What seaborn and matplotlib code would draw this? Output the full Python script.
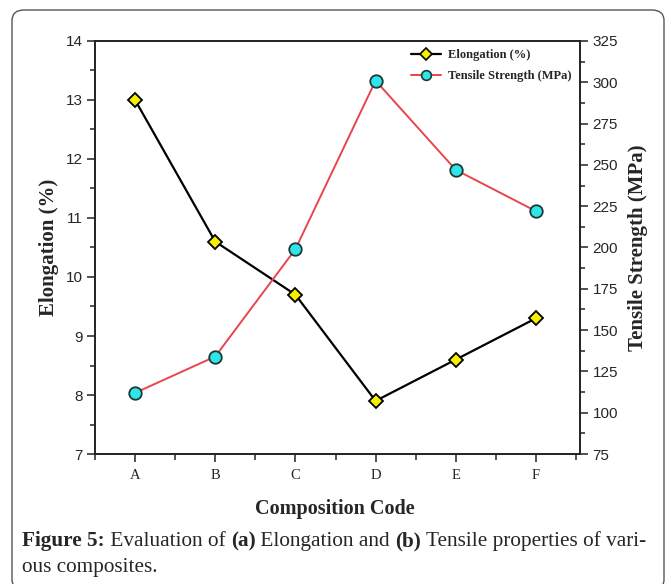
import matplotlib
matplotlib.use("Agg")
import matplotlib.pyplot as plt
from matplotlib.patches import FancyBboxPatch
from matplotlib.lines import Line2D
from matplotlib.ticker import MultipleLocator, FixedLocator
import seaborn as sns
import pandas as pd

codes = ["A", "B", "C", "D", "E", "F"]
elongation = [13.0, 10.6, 9.7, 7.9, 8.6, 9.3]
tensile = [112, 134, 199, 301, 247, 222]

sns.set_theme(style="white")
plt.rcParams["font.family"] = ["Liberation Sans", "DejaVu Sans"]

df = pd.DataFrame({"pos": range(len(codes)), "code": codes,
                   "elong": elongation, "tens": tensile})

fig = plt.figure(figsize=(6.7, 5.84), dpi=100)
ax = fig.add_axes([0.1418, 0.2226, 0.7239, 0.7072])
ax2 = ax.twinx()

sns.lineplot(data=df, x="pos", y="elong", ax=ax, color="black", lw=1.6,
             marker="D", markersize=7.5, markerfacecolor="#f5f000",
             markeredgecolor="black", markeredgewidth=1.3)
sns.lineplot(data=df, x="pos", y="tens", ax=ax2, color="#e8454c", lw=1.4,
             marker="o", markersize=9, markerfacecolor="#30e4e8",
             markeredgecolor="#1a3a3a", markeredgewidth=1.3)

ax.set_xlim(-0.5, 5.55)
ax.set_ylim(7, 14)
ax2.set_ylim(75, 325)
ax.xaxis.set_major_locator(FixedLocator(list(range(len(codes)))))
ax.set_xticklabels(codes, family="Liberation Serif", fontsize=10.5)
ax.xaxis.set_minor_locator(FixedLocator([i + 0.5 for i in range(-1, 6)]))
ax.yaxis.set_major_locator(MultipleLocator(1))
ax.yaxis.set_minor_locator(MultipleLocator(0.5))
ax2.yaxis.set_major_locator(MultipleLocator(25))
ax2.yaxis.set_minor_locator(MultipleLocator(12.5))

for a in (ax, ax2):
    for s in a.spines.values():
        s.set_color("#222222")
        s.set_linewidth(1.2)
ax.tick_params(axis="both", which="both", direction="out", color="#222222",
               bottom=True, left=True, top=False, right=False)
ax.tick_params(axis="x", which="major", length=6, width=1.1, pad=5)
ax.tick_params(axis="x", which="minor", length=4, width=1.1)
ax.tick_params(axis="y", which="major", length=6, width=1.1, labelsize=11, pad=3)
ax.tick_params(axis="y", which="minor", length=3.5, width=1.1)
ax2.tick_params(axis="y", which="both", direction="out", color="#222222",
                left=False, right=True)
ax2.tick_params(axis="y", which="major", length=6, width=1.1, labelsize=11, pad=3)
ax2.tick_params(axis="y", which="minor", length=3.5, width=1.1)

ax.set_xlabel("")
ax.set_ylabel("Elongation (%)", family="Liberation Serif", fontweight="bold",
              fontsize=15, labelpad=5)
ax2.set_ylabel("Tensile Strength (MPa)", family="Liberation Serif",
               fontweight="bold", fontsize=15, labelpad=7)

fig.text(0.5, 0.128, "Composition Code", family="Liberation Serif",
         fontweight="bold", fontsize=14.5, ha="center", va="center")

handles = [
    Line2D([], [], color="black", lw=1.6, marker="D", markersize=6.5,
           markerfacecolor="#f5f000", markeredgecolor="black", markeredgewidth=1.2),
    Line2D([], [], color="#e8454c", lw=1.4, marker="o", markersize=7,
           markerfacecolor="#30e4e8", markeredgecolor="#1a3a3a", markeredgewidth=1.2),
]
ax2.legend(handles, ["Elongation (%)", "Tensile Strength (MPa)"],
           loc="upper right", bbox_to_anchor=(1.0, 1.0), frameon=False,
           prop={"family": "Liberation Serif", "weight": "bold", "size": 9},
           handlelength=2.4, handletextpad=0.6, borderaxespad=0.25,
           labelspacing=0.75)

# caption, composed from bold and regular runs on a shared baseline
cap_parts = [("Figure 5:", "bold"), (" Evaluation of ", "normal"), ("(a)", "bold"),
             (" Elongation and ", "normal"), ("(b)", "bold"),
             (" Tensile properties of vari-", "normal")]
x = 22 / 670
renderer = fig.canvas.get_renderer()
for txt, w in cap_parts:
    t = fig.text(x, 1 - 546 / 584, txt, family="Liberation Serif", fontweight=w,
                 fontsize=15.3, va="baseline", ha="left")
    bb = t.get_window_extent(renderer=renderer)
    x += bb.width / fig.bbox.width
fig.text(22 / 670, 1 - 572 / 584, "ous composites.", family="Liberation Serif",
         fontsize=15.3, va="baseline", ha="left")

border = FancyBboxPatch((12 / 670, -6 / 584), 652 / 670, 584 / 584 - 4 / 584,
                        boxstyle="round,pad=0,rounding_size=0.018",
                        transform=fig.transFigure, fill=False,
                        edgecolor="#555555", lw=1.0, clip_on=False)
fig.patches.append(border)

fig.savefig("out.png", dpi=100)
